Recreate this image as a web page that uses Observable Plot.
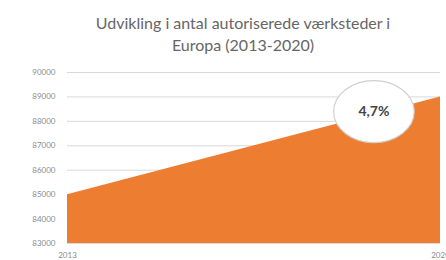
<!DOCTYPE html>
<html>
<head>
<meta charset="utf-8">
<script src="https://cdn.jsdelivr.net/npm/d3@7"></script>
<script src="https://cdn.jsdelivr.net/npm/@observablehq/plot@0.6"></script>
<style>
  html, body { margin: 0; padding: 0; background: #fff; }
  #wrap { position: relative; width: 446px; height: 260px; overflow: hidden; }
  #title { position: absolute; left: 0; top: 12px; width: 486px; text-align: center;
    font-family: Lato, "Open Sans", sans-serif; font-size: 16px; line-height: 22px; color: #666; }
</style>
</head>
<body>
<div id="wrap">
  <div id="chart"></div>
  <div id="title">Udvikling i antal autoriserede værksteder i<br>Europa (2013-2020)</div>
</div>
<script>
const years = [2013, 2020];
const workshops = [85000, 89000];
const yTicks = [83000, 84000, 85000, 86000, 87000, 88000, 89000, 90000];
const xTicks = [2013, 2020];
const annotationText = ["4,7%"];
const annotationYear = [2018.75];
const annotationValue = [88400];

const data = years.map((y, i) => ({year: y, value: workshops[i]}));
const note = annotationText.map((t, i) => ({text: t, year: annotationYear[i], value: annotationValue[i]}));

const ellipse = {
  draw(context, size) {
    const r = Math.sqrt(size / Math.PI);
    const rx = r * 1.3, ry = r;
    const k = 0.5523;
    context.moveTo(rx, 0);
    context.bezierCurveTo(rx, ry * k, rx * k, ry, 0, ry);
    context.bezierCurveTo(-rx * k, ry, -rx, ry * k, -rx, 0);
    context.bezierCurveTo(-rx, -ry * k, -rx * k, -ry, 0, -ry);
    context.bezierCurveTo(rx * k, -ry, rx, -ry * k, rx, 0);
    context.closePath();
  }
};

const chart = Plot.plot({
  width: 446,
  height: 260,
  marginTop: 72,
  marginBottom: 17,
  marginLeft: 67,
  marginRight: 6,
  style: {fontFamily: "Lato, 'Open Sans', sans-serif", fontSize: "8px", color: "#8a8a8a", background: "#fff"},
  x: {domain: [2013, 2020], label: null},
  y: {domain: [83000, 90000], label: null},
  marks: [
    Plot.gridY(yTicks, {stroke: "#d9d9d9", strokeOpacity: 1, strokeWidth: 1}),
    Plot.areaY(data, {x: "year", y1: 83000, y2: "value", fill: "#ED7D31"}),
    Plot.dot(note, {x: "year", y: "value", r: 31, symbol: ellipse, fill: "#fff", stroke: "#d0d0d0", strokeWidth: 1.2}),
    Plot.text(note, {x: "year", y: "value", text: "text", fontSize: 14, fontWeight: "bold", fill: "#444"}),
    Plot.axisY({ticks: yTicks, tickFormat: d => String(d), tickSize: 0, tickPadding: 12, fill: "#8a8a8a"}),
    Plot.axisX({ticks: xTicks, tickFormat: d => String(d), tickSize: 0, tickPadding: 9, fill: "#8a8a8a"})
  ]
});
document.getElementById("chart").appendChild(chart);
</script>
</body>
</html>
